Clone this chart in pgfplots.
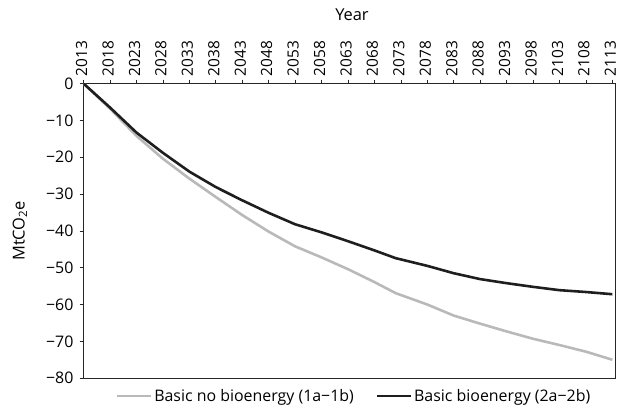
\documentclass[border=0pt]{standalone}
\usepackage{fontspec}
\setmainfont{Open Sans}
\usepackage{pgfplots}
\pgfplotsset{compat=1.18}

\definecolor{nobio}{RGB}{185,185,185}
\definecolor{bio}{RGB}{30,30,30}

\begin{document}
\begin{tikzpicture}
\begin{axis}[
    scale only axis,
    width=534pt, height=296pt,
    xmin=2013, xmax=2113.5,
    ymin=-80, ymax=0,
    xtick={2013,2018,...,2113},
    ytick={0,-10,...,-80},
    yticklabels={0,−10,−20,−30,−40,−50,−60,−70,−80},
    xticklabel pos=upper,
    xtick pos=upper,
    ytick pos=left,
    % rotated labels: xshift moves them upward, yshift to the left
    xticklabel style={rotate=90, anchor=west, inner sep=0pt, xshift=3pt, yshift=2pt,
        font=\fontsize{15.5}{19}\selectfont,
        /pgf/number format/1000 sep={}},
    yticklabel style={anchor=east, inner sep=0pt, xshift=-6pt,
        font=\fontsize{16}{19}\selectfont},
    /pgf/number format/assume math mode=true,
    tick align=outside,
    major tick length=4pt,
    tick style={black!85, line width=0.7pt},
    axis line style={black!85, line width=0.8pt},
    font=\fontsize{16}{19}\selectfont,
    xlabel={Year},
    every axis x label/.style={at={(axis description cs:0.505,1)}, anchor=center, yshift=69pt,
        font=\fontsize{16.5}{19}\selectfont},
    ylabel={MtCO\textsubscript{2}e},
    every axis y label/.style={at={(axis description cs:-0.1199,0.5)}, rotate=90, anchor=center,
        font=\fontsize{16.5}{19}\selectfont},
    legend columns=2,
    legend style={draw=none, fill=none, inner sep=0pt, at={(0.509,-0.061)}, anchor=center,
        font=\fontsize{16}{19}\selectfont,
        /tikz/every even column/.append style={column sep=20pt}},
    legend image code/.code={\draw[#1, line width=2.5pt] (0pt,0pt) -- (34pt,0pt);},
]
\addplot[nobio, line width=2.6pt] coordinates {
    (2013,0) (2018,-6.8) (2023,-14.2) (2028,-20.4) (2033,-25.8) (2038,-30.8)
    (2043,-35.7) (2048,-40.2) (2053,-44.2) (2058,-47.2) (2063,-50.4)
    (2068,-53.9) (2072,-56.9) (2078,-60.0) (2080,-61.2) (2083,-63.0)
    (2088,-65.2) (2093,-67.3) (2098,-69.3) (2103,-71.0) (2108,-72.8) (2113,-75.0)
};
\addlegendentry{Basic no bioenergy (1a−1b)}
\addplot[bio, line width=2.6pt] coordinates {
    (2013,0) (2018,-6.5) (2023,-13.3) (2028,-18.8) (2033,-23.9) (2038,-28.1)
    (2043,-31.7) (2048,-35.1) (2053,-38.2) (2058,-40.4) (2063,-42.8)
    (2068,-45.3) (2072,-47.4) (2078,-49.5) (2080,-50.3) (2083,-51.5)
    (2088,-53.1) (2093,-54.2) (2098,-55.2) (2103,-56.1) (2108,-56.6) (2113,-57.2)
};
\addlegendentry{Basic bioenergy (2a−2b)}
\end{axis}
\pgfresetboundingbox
\path (current axis.south west) ++(-84pt,-33pt) rectangle ++(624pt,413pt);
\end{tikzpicture}
\end{document}
